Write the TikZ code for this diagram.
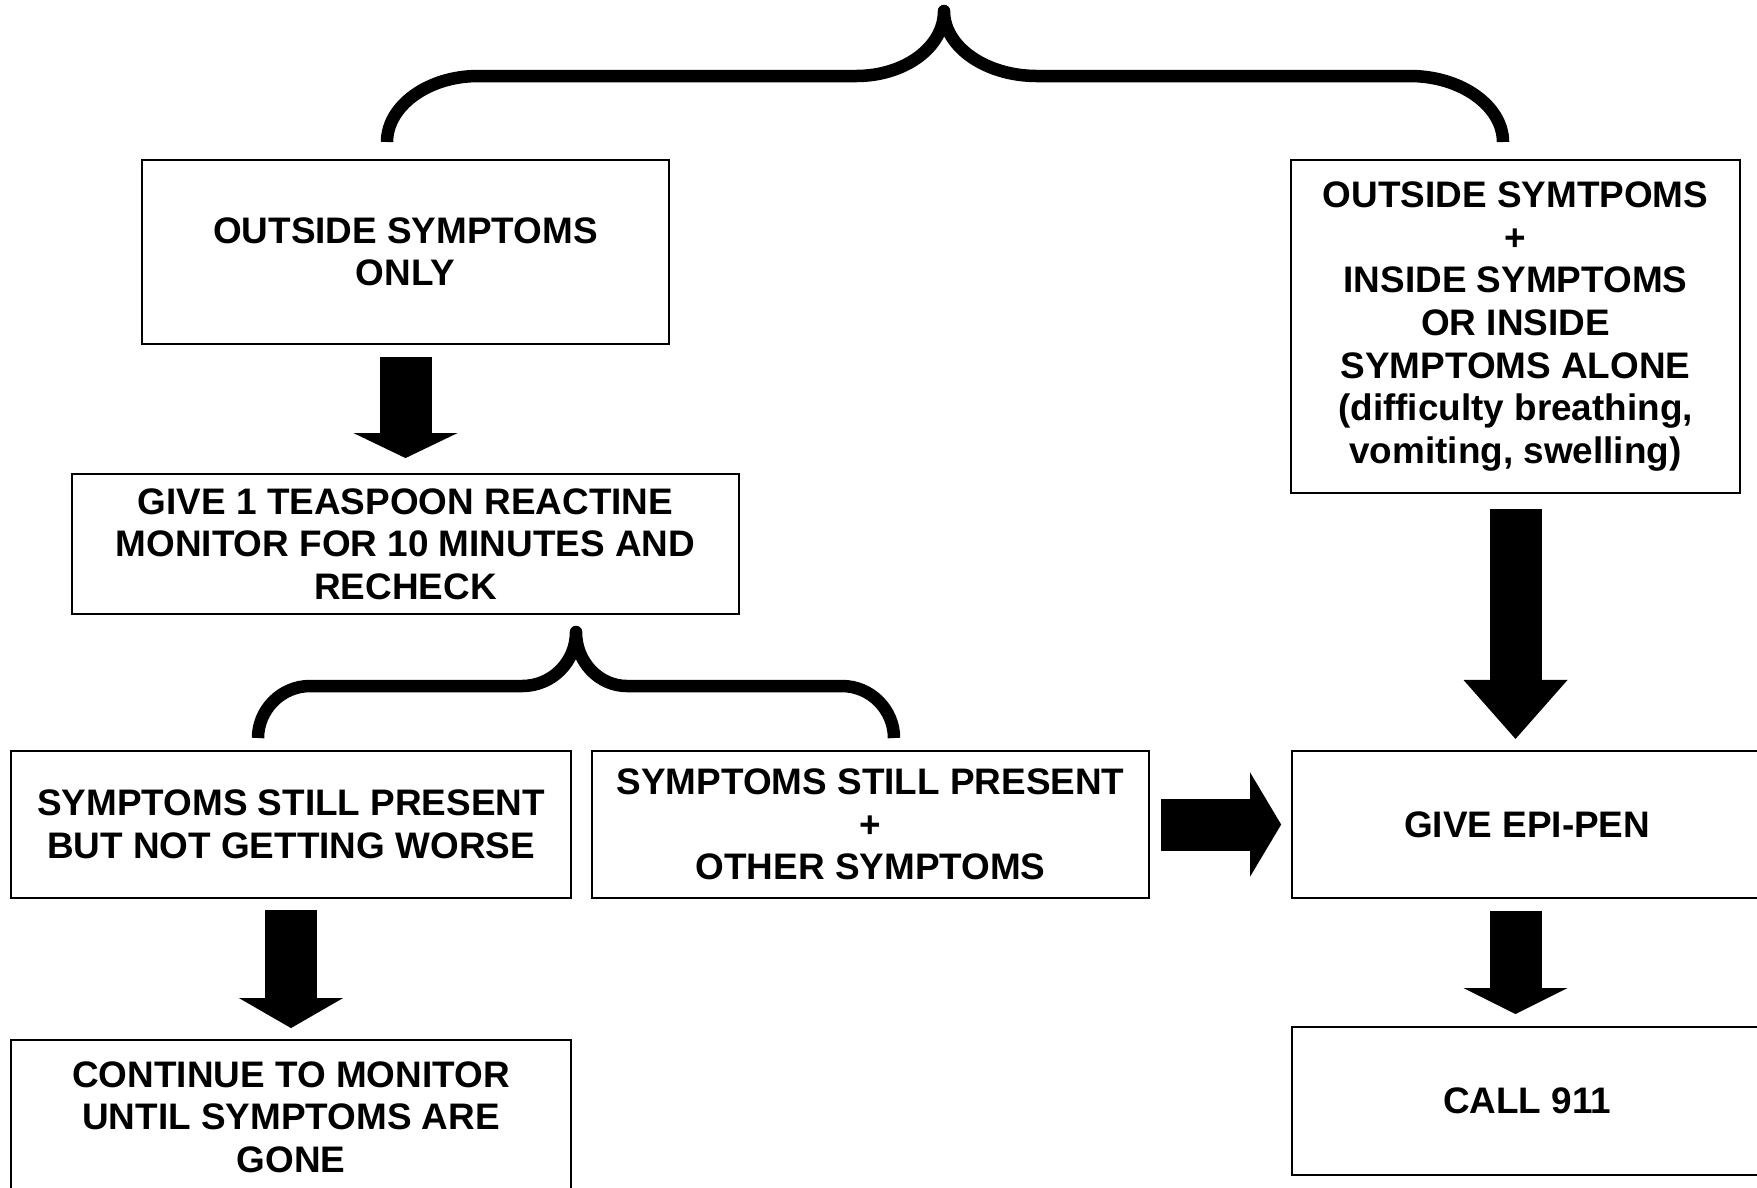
\documentclass[tikz,border=0pt]{standalone}
\usepackage{fontspec}
\setmainfont{Liberation Sans}
\usepackage{xcolor}
\usepackage{tikz}
\usetikzlibrary{positioning,arrows.meta}

\begin{document}
\begin{tikzpicture}[
  x=0.1mm, y=-0.1mm,
  node distance=12mm,
  box/.style={draw, line width=0.6pt, align=center, inner sep=2pt, font=\fontsize{10.5pt}{12.1pt}\selectfont\bfseries},
  curly/.style={line width=1.25mm, line cap=butt, line join=round},
  bigarrow/.style={line width=5.2mm, -{Triangle[length=#1, width=10.4mm, line width=0pt]}},
  bigarrow/.default=2.8mm
]
\useasboundingbox (0,0) rectangle (1757,1187);

% braces
\draw[curly] (387,142) .. controls (387,106) and (428,76) .. (478,76) -- (856,76)
  .. controls (905,76) and (944,47) .. (944,11)
  .. controls (944,47) and (986,76) .. (1037,76) -- (1410,76)
  .. controls (1461,76) and (1503,106) .. (1503,142);
\draw[curly] (258,738) .. controls (258,710) and (281,686) .. (310,686) -- (522,686)
  .. controls (552,686) and (576,662) .. (576,632)
  .. controls (576,662) and (599,686) .. (627,686) -- (842,686)
  .. controls (871,686) and (894,710) .. (894,738);

\node[box, minimum width=52.7mm, minimum height=18.4mm] (outside) at (405.5,252) {OUTSIDE SYMPTOMS\\ONLY};
\node[box, below=12.8mm of outside, minimum width=66.7mm, minimum height=14mm] (reactine) {GIVE 1 TEASPOON REACTINE\\MONITOR FOR 10 MINUTES AND\\RECHECK};
\node[box, minimum width=56mm, minimum height=14.7mm] (notworse) at (291,824.5) {SYMPTOMS STILL PRESENT\\BUT NOT GETTING WORSE};
\node[box, right=1.9mm of notworse, minimum width=55.7mm, minimum height=14.7mm] (other) {SYMPTOMS STILL PRESENT\\+\\OTHER SYMPTOMS};
\node[box, right=14.1mm of other, minimum width=47mm, minimum height=14.7mm] (epipen) {GIVE EPI-PEN};
\node[box, below=12.7mm of epipen, minimum width=47mm, minimum height=14.8mm] (call) {CALL 911};
\node[box, below=14mm of notworse, minimum width=56mm, minimum height=15.4mm] (monitor) {CONTINUE TO MONITOR\\UNTIL SYMPTOMS ARE\\GONE};
\node[box, minimum width=44.9mm, minimum height=33.3mm] (inside) at (1515.5,326.5) {OUTSIDE SYMTPOMS\\+\\INSIDE SYMPTOMS\\OR INSIDE\\SYMPTOMS ALONE\\(difficulty breathing,\\vomiting, swelling)};

\draw[bigarrow=2.5mm, shorten <=1.2mm, shorten >=1.5mm] (outside.south) -- (reactine.north);
\draw[bigarrow=3mm, shorten <=1.1mm, shorten >=1.1mm] (notworse.south) -- (monitor.north);
\draw[bigarrow=5.9mm, shorten <=1.5mm, shorten >=1.1mm] (inside.south) -- (inside.south |- epipen.north);
\draw[bigarrow=2.6mm, shorten <=1.2mm, shorten >=1.2mm] (epipen.south -| inside.south) -- (call.north -| inside.south);
\draw[bigarrow=3.1mm, shorten <=1.1mm, shorten >=1mm] (other.east) -- (epipen.west);

\end{tikzpicture}
\end{document}
